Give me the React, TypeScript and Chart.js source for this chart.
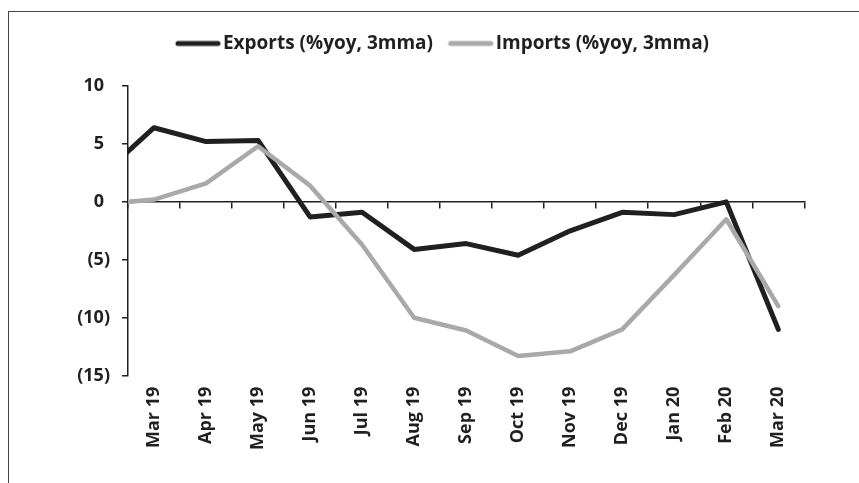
import React, { useEffect, useRef } from 'react';
import { Chart, registerables } from 'chart.js';

Chart.register(...registerables);

// ---- data ----
const leadMonth = 'Feb 19'; // month before the first label, only its segment into the plot is visible
const months = ['Mar 19', 'Apr 19', 'May 19', 'Jun 19', 'Jul 19', 'Aug 19', 'Sep 19', 'Oct 19', 'Nov 19', 'Dec 19', 'Jan 20', 'Feb 20', 'Mar 20'];
const exportsYoY = [2.3, 6.4, 5.2, 5.3, -1.3, -0.9, -4.1, -3.6, -4.6, -2.5, -0.9, -1.1, 0.0, -11.0];
const importsYoY = [-0.2, 0.2, 1.6, 4.8, 1.4, -3.7, -10.0, -11.1, -13.3, -12.9, -11.0, -6.3, -1.5, -9.0];
const seriesNames = ['Exports (%yoy, 3mma)', 'Imports (%yoy, 3mma)'];
const yMin = -15;
const yMax = 10;
const yStep = 5;

const DARK = '#231f20';
const GRAY = '#a7a9ac';
const FONT = "'Open Sans', 'Noto Sans', sans-serif";
const LEG_FONT = 19;
const LEG_B = 43.2;

function legendLine(color: string, width: number): HTMLCanvasElement {
  const c = document.createElement('canvas');
  c.width = 64;
  c.height = 10;
  const ctx = c.getContext('2d')!;
  const off = 32 - LEG_B / 2;
  ctx.strokeStyle = color;
  ctx.lineWidth = width;
  ctx.lineCap = 'round';
  ctx.beginPath();
  ctx.moveTo(LEG_B - 38 + off + width / 2, 5);
  ctx.lineTo(LEG_B + 7 + off - width / 2, 5);
  ctx.stroke();
  return c;
}

export default function App() {
  const ref = useRef<HTMLCanvasElement | null>(null);

  useEffect(() => {
    if (!ref.current) return;
    const allMonths = [leadMonth, ...months];
    const toPts = (vals: number[]) => vals.map((y, i) => ({ x: i - 1, y }));
    const imgs = [legendLine(DARK, 5), legendLine(GRAY, 5)];
    const xMin = -0.5;
    const xMax = months.length - 0.5;

    const chart = new Chart(ref.current, {
      type: 'line',
      data: {
        datasets: [
          {
            label: seriesNames[0],
            data: toPts(exportsYoY),
            xAxisID: 'x',
            yAxisID: 'y',
            borderColor: DARK,
            backgroundColor: DARK,
            borderWidth: 5,
            borderCapStyle: 'round',
            borderJoinStyle: 'round',
            pointRadius: 0,
            tension: 0,
            order: 1,
            clip: { left: 0, right: false, top: false, bottom: false } as any,
          },
          {
            label: seriesNames[1],
            data: toPts(importsYoY),
            xAxisID: 'x',
            yAxisID: 'y',
            borderColor: GRAY,
            backgroundColor: GRAY,
            borderWidth: 4.5,
            borderCapStyle: 'round',
            borderJoinStyle: 'round',
            pointRadius: 0,
            tension: 0,
            order: 0,
            clip: { left: 0, right: false, top: false, bottom: false } as any,
          },
        ],
      },
      options: {
        responsive: false,
        maintainAspectRatio: false,
        animation: false,
        devicePixelRatio: 1,
        layout: { padding: { left: 66, right: 54.7, top: 12, bottom: 17.3 } },
        plugins: {
          tooltip: { enabled: false },
          legend: {
            position: 'top',
            align: 'center',
            labels: {
              usePointStyle: true,
              pointStyleWidth: LEG_B,
              padding: 10,
              color: DARK,
              font: { family: FONT, size: LEG_FONT, weight: 'bold' },
              generateLabels: (ch: any) => {
                const items = (Chart.defaults.plugins.legend.labels as any).generateLabels(ch);
                return items
                  .sort((a: any, b: any) => a.datasetIndex - b.datasetIndex)
                  .map((it: any) => ({ ...it, pointStyle: imgs[it.datasetIndex], fontColor: DARK }));
              },
            },
          },
        },
        scales: {
          pad: {
            type: 'linear',
            axis: 'x',
            position: 'top',
            display: true,
            grid: { display: false, drawTicks: false },
            border: { display: false },
            ticks: { display: false },
            afterFit: (s: any) => {
              s.height = 23;
            },
          },
          x: {
            type: 'linear',
            axis: 'x',
            position: 'bottom',
            min: xMin,
            max: xMax,
            grid: { display: false, drawTicks: false },
            border: { display: false },
            afterBuildTicks: (s: any) => {
              s.ticks = months.map((_, i) => ({ value: i }));
            },
            ticks: {
              autoSkip: false,
              minRotation: 90,
              maxRotation: 90,
              padding: 11,
              color: DARK,
              font: { family: FONT, size: 18, weight: 'bold' },
              callback: (v: any) => allMonths[Number(v) + 1],
            },
            afterFit: (s: any) => {
              s.height = 90;
            },
          },
          x0: {
            type: 'linear',
            axis: 'x',
            position: { y: 0 } as any,
            min: xMin,
            max: xMax,
            afterBuildTicks: (s: any) => {
              s.ticks = Array.from({ length: months.length + 1 }, (_, i) => ({ value: i - 0.5 }));
            },
            grid: { drawOnChartArea: false, drawTicks: true, tickLength: 6, color: DARK, lineWidth: 1.5 },
            border: { display: true, color: DARK, width: 1.5 },
            ticks: { display: false },
          },
          y: {
            type: 'linear',
            axis: 'y',
            position: 'left',
            min: yMin,
            max: yMax,
            grid: { drawOnChartArea: false, drawTicks: true, tickLength: 6, color: DARK, lineWidth: 1.5 },
            border: { display: true, color: DARK, width: 1.5 },
            ticks: {
              stepSize: yStep,
              padding: 12,
              color: DARK,
              font: { family: FONT, size: 18, weight: 'bold' },
              callback: (v: any) => (Number(v) < 0 ? `(${Math.abs(Number(v))})` : `${v}\u2004`),
            },
            afterFit: (s: any) => {
              s.width = 53;
            },
          },
        },
      },
    } as any);
    return () => chart.destroy();
  }, []);

  return (
    <div
      style={{
        position: 'absolute',
        left: 8,
        top: 11,
        width: 851,
        height: 472,
        boxSizing: 'border-box',
        borderTop: '1px solid #444',
        borderLeft: '1px solid #444',
        background: '#fff',
      }}
    >
      <canvas ref={ref} width={850} height={471} style={{ display: 'block', width: 850, height: 471 }} />
    </div>
  );
}
